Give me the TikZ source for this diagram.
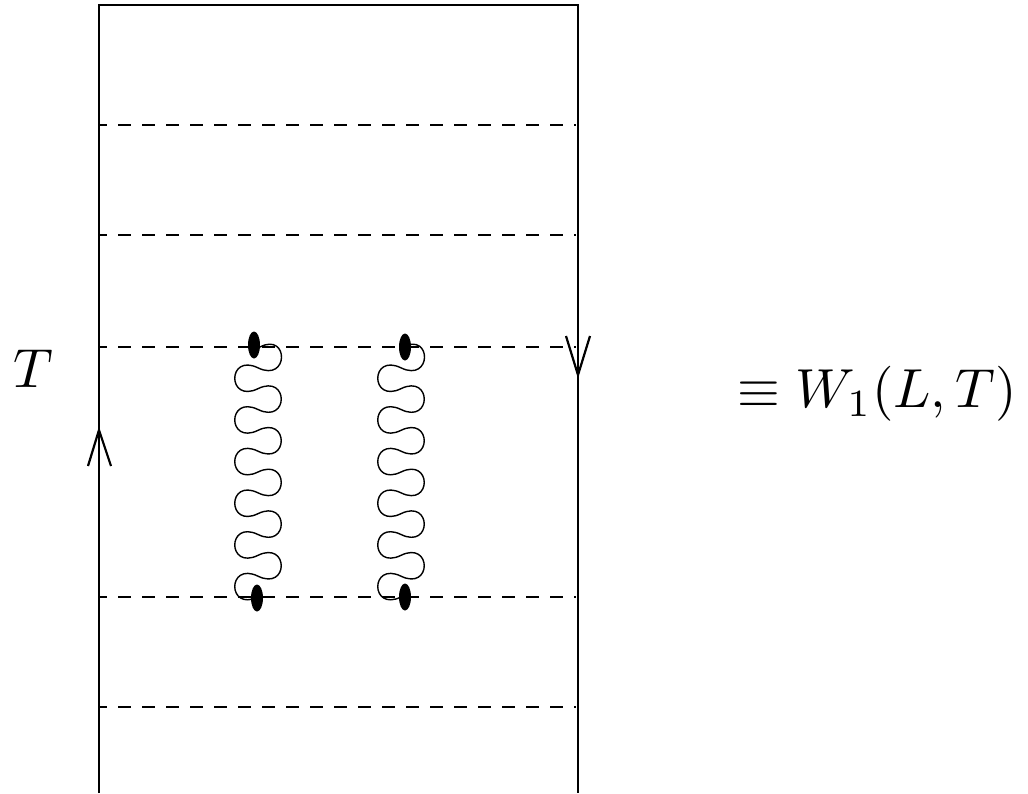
\documentclass[tikz,border=0pt]{standalone}
\usetikzlibrary{shapes.geometric}
\tikzset{
  frame/.style={line width=1.5pt},
  cut/.style={line width=1.4pt, dash pattern=on 13pt off 11pt, dash phase=6pt},
  glu/.style={line width=1.4pt},
  vdot/.style={ellipse, fill=black, draw=none, minimum width=12pt, minimum height=27pt, inner sep=0pt},
  varrow/.style={line width=2.2pt, line join=miter},
  big/.style={scale=5.5, inner sep=0pt}
}
\begin{document}
\begin{tikzpicture}[x=1pt,y=-1pt]
\useasboundingbox (0,0) rectangle (1028,793);
% frame
\coordinate (bl) at (99,793);
\coordinate (tl) at (99,5);
\coordinate (tr) at (578,5);
\coordinate (br) at (578,793);
\draw[frame] (bl) -- (tl) -- (tr) -- (br);
% cut lines
\foreach \y in {125,235,347,597,707}{
  \draw[cut] (100,\y) -- (576,\y);
}
% gluons
\foreach \c/\n in {258/a, 401/b}{
  \draw[glu] (\c+2,347)
    foreach \i [evaluate=\i as \s using {ifthenelse(mod(\i,2)==0,1,-1)},
                evaluate=\i as \ya using {347+\i*20.833},
                evaluate=\i as \yb using {347+(\i+1)*20.833}] in {0,...,11}
    { .. controls (\c+\s*31,\ya-15) and (\c+\s*31,\yb+15) .. (\c,\yb) };
}
% vertices
\node[vdot] (t1) at (254,345) {};
\node[vdot] (b1) at (257,598) {};
\node[vdot] (t2) at (405,347) {};
\node[vdot] (b2) at (405,597) {};
% arrows on the lines
\draw[varrow] (88,466) -- (99,430) -- (111,466);
\draw[varrow] (566,336) -- (578,375) -- (590,336);
% labels
\node[big] (T) at (33,369) {$T$};
\node[big] (W) at (877,394) {$\equiv W_1(L,T)$};
\end{tikzpicture}
\end{document}
